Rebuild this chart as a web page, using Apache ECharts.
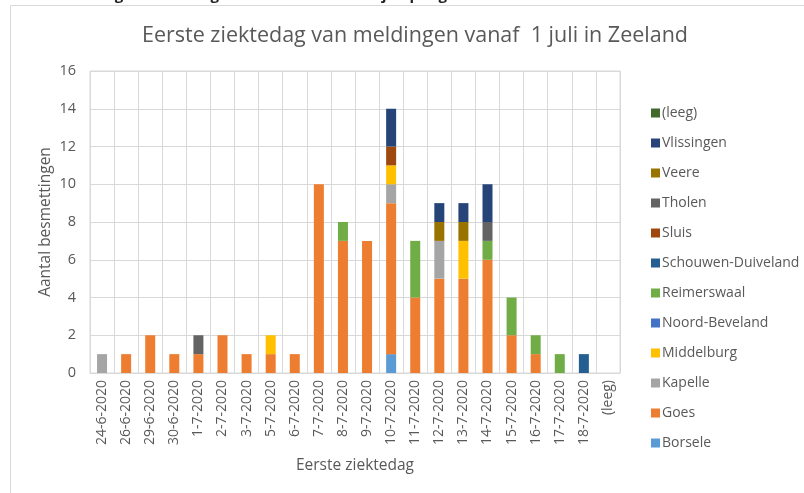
<!DOCTYPE html>
<html>
<head>
<meta charset="utf-8">
<script src="https://cdn.jsdelivr.net/npm/echarts@6/dist/echarts.min.js"></script>
<style>
	html, body { margin: 0; padding: 0; background: #fff; }
	#chart { width: 804px; height: 493px; }
</style>
</head>
<body>
<div id="chart"></div>
<script>
/**
 * gegevens
 * **/
var dagen = ['24-6-2020', '26-6-2020', '29-6-2020', '30-6-2020', '1-7-2020', '2-7-2020', '3-7-2020',
	'5-7-2020', '6-7-2020', '7-7-2020', '8-7-2020', '9-7-2020', '10-7-2020', '11-7-2020', '12-7-2020',
	'13-7-2020', '14-7-2020', '15-7-2020', '16-7-2020', '17-7-2020', '18-7-2020', '(leeg)'];
var yTicks = [0, 2, 4, 6, 8, 10, 12, 14, 16];

var borsele      = [0, 0, 0, 0, 0, 0, 0, 0, 0, 0, 0, 0, 1, 0, 0, 0, 0, 0, 0, 0, 0, 0];
var goes         = [0, 1, 2, 1, 1, 2, 1, 1, 1, 10, 7, 7, 8, 4, 5, 5, 6, 2, 1, 0, 0, 0];
var kapelle      = [1, 0, 0, 0, 0, 0, 0, 0, 0, 0, 0, 0, 1, 0, 2, 0, 0, 0, 0, 0, 0, 0];
var middelburg   = [0, 0, 0, 0, 0, 0, 0, 1, 0, 0, 0, 0, 1, 0, 0, 2, 0, 0, 0, 0, 0, 0];
var noordBeveland = [0, 0, 0, 0, 0, 0, 0, 0, 0, 0, 0, 0, 0, 0, 0, 0, 0, 0, 0, 0, 0, 0];
var reimerswaal  = [0, 0, 0, 0, 0, 0, 0, 0, 0, 0, 1, 0, 0, 3, 0, 0, 1, 2, 1, 1, 0, 0];
var schouwen     = [0, 0, 0, 0, 0, 0, 0, 0, 0, 0, 0, 0, 0, 0, 0, 0, 0, 0, 0, 0, 1, 0];
var sluis        = [0, 0, 0, 0, 0, 0, 0, 0, 0, 0, 0, 0, 1, 0, 0, 0, 0, 0, 0, 0, 0, 0];
var tholen       = [0, 0, 0, 0, 1, 0, 0, 0, 0, 0, 0, 0, 0, 0, 0, 0, 1, 0, 0, 0, 0, 0];
var veere        = [0, 0, 0, 0, 0, 0, 0, 0, 0, 0, 0, 0, 0, 0, 1, 1, 0, 0, 0, 0, 0, 0];
var vlissingen   = [0, 0, 0, 0, 0, 0, 0, 0, 0, 0, 0, 0, 2, 0, 1, 1, 2, 0, 0, 0, 0, 0];
var leeg         = [0, 0, 0, 0, 0, 0, 0, 0, 0, 0, 0, 0, 0, 0, 0, 0, 0, 0, 0, 0, 0, 0];

var gemeenten = ['Borsele', 'Goes', 'Kapelle', 'Middelburg', 'Noord-Beveland', 'Reimerswaal',
	'Schouwen-Duiveland', 'Sluis', 'Tholen', 'Veere', 'Vlissingen', '(leeg)'];
var waarden = [borsele, goes, kapelle, middelburg, noordBeveland, reimerswaal,
	schouwen, sluis, tholen, veere, vlissingen, leeg];
var kleuren = ['#5b9bd5', '#ed7d31', '#a5a5a5', '#ffc000', '#4472c4', '#70ad47',
	'#255e91', '#9e480e', '#636363', '#997300', '#264478', '#43682b'];

/**
 * grafiek
 * **/
var font = 'Open Sans';
var grijs = '#595959';
var myChart = echarts.init(document.getElementById('chart'));

var series = gemeenten.map(function(naam, i) {
	return {
		name: naam,
		type: 'bar',
		stack: 'totaal',
		barWidth: 10,
		itemStyle: {
			color: kleuren[i]
		},
		data: waarden[i].map(function(v) {
			return v === 0 ? null : v;
		})
	};
});

var option = {
	animation: false,
	color: kleuren,
	graphic: [{
		type: 'rect',
		shape: { x: 10.5, y: 5.5, width: 800, height: 500 },
		style: { fill: 'none', stroke: '#d9d9d9', lineWidth: 1 }
	}, {
		type: 'text',
		left: 0,
		top: -12,
		style: {
			text: 'Eerste ziektedag van meldingen in Zeeland vanaf 1 juli per gemeente',
			font: 'bold 15px "Open Sans"',
			fill: '#222'
		}
	}],
	title: {
		text: 'Eerste ziektedag van meldingen vanaf  1 juli in Zeeland',
		left: 137,
		top: 20,
		textStyle: {
			fontFamily: font,
			fontSize: 21.5,
			fontWeight: 'normal',
			color: grijs
		}
	},
	legend: {
		orient: 'vertical',
		left: 646,
		top: 101,
		itemWidth: 9,
		itemHeight: 9,
		itemGap: 16,
		icon: 'rect',
		textStyle: {
			fontFamily: font,
			fontSize: 14,
			color: grijs,
			padding: [0, 0, 0, -3]
		},
		data: gemeenten.slice().reverse()
	},
	grid: {
		left: 90,
		right: 184,
		top: 71,
		bottom: 120,
		show: true,
		borderColor: '#d9d9d9',
		borderWidth: 1
	},
	xAxis: {
		type: 'category',
		data: dagen,
		name: 'Eerste ziektedag',
		nameLocation: 'middle',
		nameGap: 85,
		nameTextStyle: {
			fontFamily: font,
			fontSize: 15.5,
			color: grijs
		},
		axisLine: {
			lineStyle: { color: '#d9d9d9' }
		},
		axisTick: {
			show: false
		},
		splitLine: {
			show: true,
			lineStyle: { color: '#d9d9d9' }
		},
		axisLabel: {
			rotate: 90,
			interval: 0,
			margin: 7,
			fontFamily: font,
			fontSize: 14,
			color: grijs
		}
	},
	yAxis: {
		type: 'value',
		min: yTicks[0],
		max: yTicks[yTicks.length - 1],
		interval: yTicks[1] - yTicks[0],
		name: 'Aantal besmettingen',
		nameLocation: 'middle',
		nameGap: 36,
		nameMoveOverlap: false,
		nameTextStyle: {
			fontFamily: font,
			fontSize: 15.5,
			color: grijs
		},
		axisLine: {
			show: false
		},
		axisTick: {
			show: false
		},
		splitLine: {
			lineStyle: { color: '#d9d9d9' }
		},
		axisLabel: {
			margin: 14,
			fontFamily: font,
			fontSize: 14.5,
			color: grijs
		}
	},
	series: series
};
myChart.setOption(option);
</script>
</body>
</html>
